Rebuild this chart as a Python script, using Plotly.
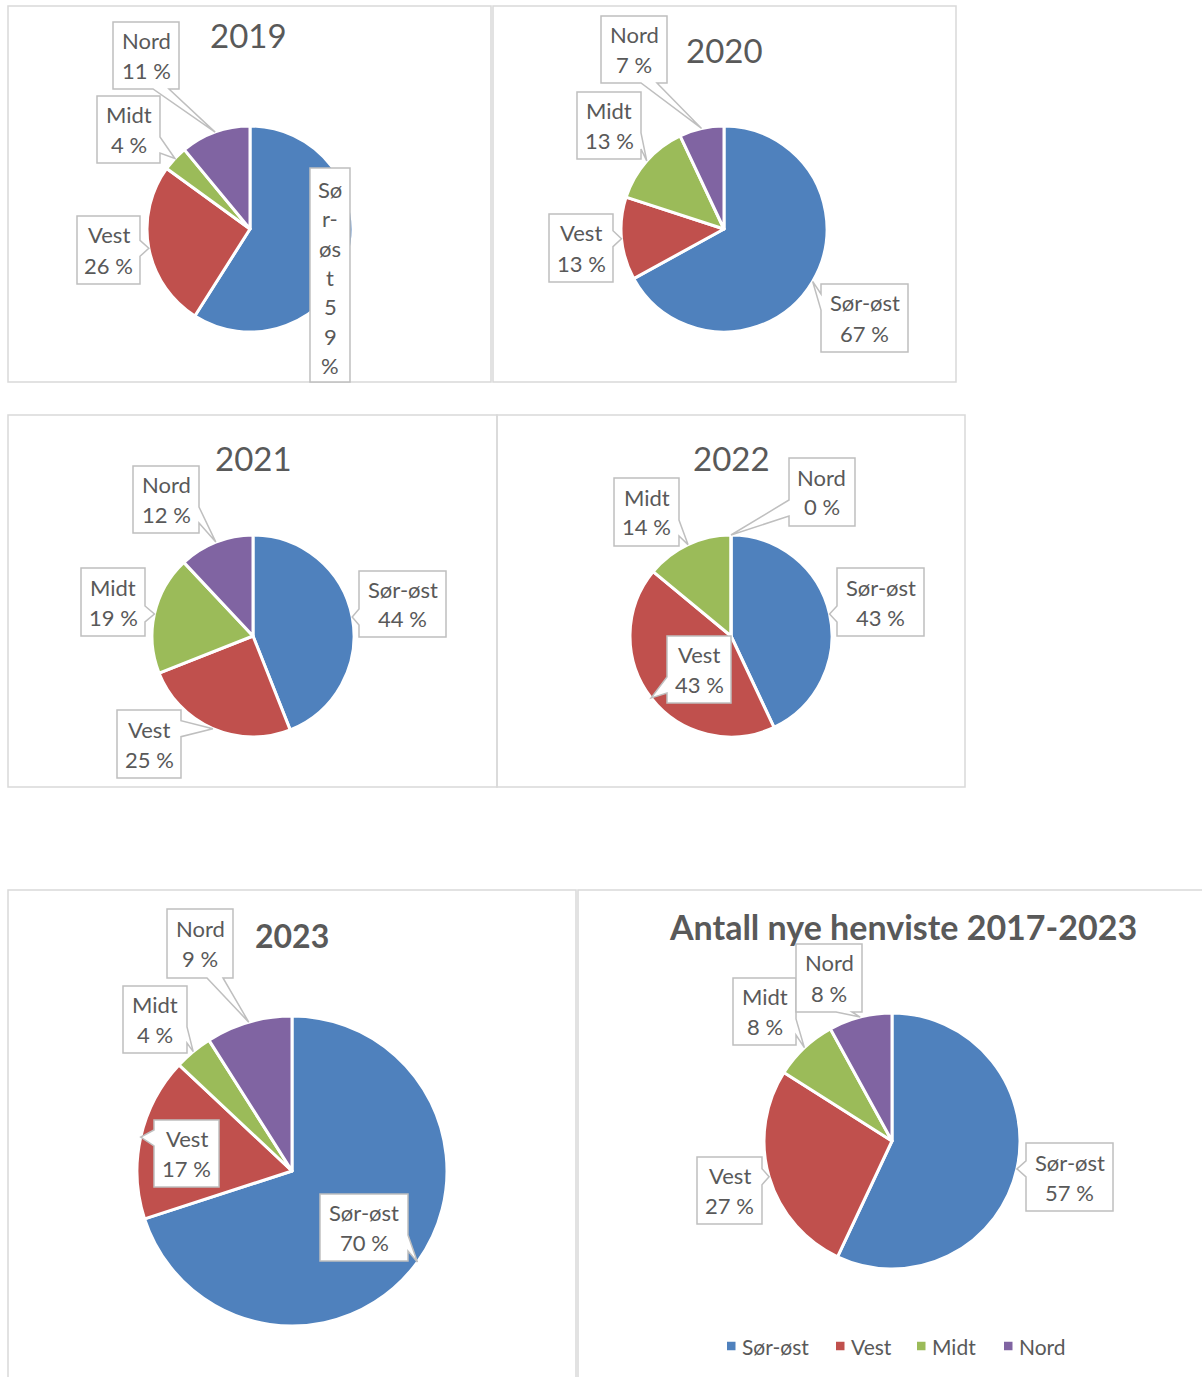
import math
import plotly.graph_objects as go

W, H = 1202, 1377
OFF = 0  # body margin removed via post_script

# ---------------- data ----------------
regions = ["Sør-øst", "Vest", "Midt", "Nord"]
region_colors = ["#4F81BD", "#C0504D", "#9BBB59", "#8064A2"]

chart_titles = ["2019", "2020", "2021", "2022", "2023", "Antall nye henviste 2017-2023"]
share_2019 = [59, 26, 4, 11]
share_2020 = [67, 13, 13, 7]
share_2021 = [44, 25, 19, 12]
share_2022 = [43, 43, 14, 0]
share_2023 = [70, 17, 4, 9]
share_total = [57, 27, 8, 8]
shares = [share_2019, share_2020, share_2021, share_2022, share_2023, share_total]

# ---------------- style / layout ----------------
TEXT = "#595959"
BOX_LINE = "#BFBFBF"
PANEL_LINE = "#D9D9D9"
FONT = "Lato"

# pixel layout of each panel: panel rect, pie centre/radius, title position,
# callout boxes (x0, x1, y0, y1) in region order
panels = [
    dict(rect=(8, 6, 491, 382), center=(250, 229), r=103, title_xy=(248, 35), bold=False, tsize=33,
         boxes=[(310, 350, 168, 382), (77, 140, 216, 284), (97, 160, 96, 163), (113, 179, 22, 89)],
         narrow=0),
    dict(rect=(493, 6, 956, 382), center=(724, 229), r=103, title_xy=(724, 50), bold=False, tsize=33,
         boxes=[(821, 908, 284, 352), (549, 613, 214, 282), (577, 641, 92, 159), (601, 667, 16, 83)]),
    dict(rect=(8, 415, 497, 787), center=(253, 636), r=101, title_xy=(253, 458), bold=False, tsize=33,
         boxes=[(359, 446, 571, 637), (117, 181, 710, 778), (81, 145, 568, 636), (133, 199, 466, 533)]),
    dict(rect=(497, 415, 965, 787), center=(731, 636), r=101, title_xy=(731, 458), bold=False, tsize=33,
         boxes=[(837, 924, 568, 636), (667, 731, 636, 703), (614, 679, 478, 546), (789, 855, 458, 526)]),
    dict(rect=(8, 890, 576, 1420), center=(292, 1171), r=155, title_xy=(292, 935), bold=True, tsize=32,
         boxes=[(320, 408, 1194, 1261), (154, 219, 1120, 1187), (123, 187, 986, 1053), (167, 233, 909, 978)]),
    dict(rect=(578, 890, 1220, 1420), center=(892, 1141), r=128, title_xy=(903, 926), bold=True, tsize=34,
         boxes=[(1026, 1113, 1143, 1211), (697, 762, 1157, 1224), (733, 796, 978, 1045), (796, 862, 944, 1012)]),
]
legend_square_x = [727, 836, 917, 1004]
legend_y = 1346


def px(x):
    return (x - OFF) / W


def py(y):
    return 1 - (y - OFF) / H


def callout_path(box, tip, base=16, margin=10):
    x0, x1, y0, y1 = box
    tx, ty = tip
    dx = (tx - x1) if tx > x1 else ((x0 - tx) if tx < x0 else 0)
    dy = (ty - y1) if ty > y1 else ((y0 - ty) if ty < y0 else 0)
    TL, TR, BR, BL = (x0, y0), (x1, y0), (x1, y1), (x0, y1)
    if dx == 0 and dy == 0:
        pts = [TL, TR, BR, BL]
    elif dy > dx:
        c = min(max(tx, x0 + margin + base / 2), x1 - margin - base / 2)
        b0, b1 = c - base / 2, c + base / 2
        if ty < y0:
            pts = [TL, (b0, y0), tip, (b1, y0), TR, BR, BL]
        else:
            pts = [TL, TR, BR, (b1, y1), tip, (b0, y1), BL]
    else:
        c = min(max(ty, y0 + margin + base / 2), y1 - margin - base / 2)
        b0, b1 = c - base / 2, c + base / 2
        if tx > x1:
            pts = [TL, TR, (x1, b0), tip, (x1, b1), BR, BL]
        else:
            pts = [TL, TR, BR, BL, (x0, b1), tip, (x0, b0)]
    return "M " + " L ".join(f"{px(a):.5f},{py(b):.5f}" for a, b in pts) + " Z"


fig = go.Figure()
shapes = []
annotations = []

for p, vals, title in zip(panels, shares, chart_titles):
    cx, cy = p["center"]
    r = p["r"]
    fig.add_trace(go.Pie(
        labels=regions, values=vals, sort=False, direction="clockwise", rotation=0,
        marker=dict(colors=region_colors, line=dict(color="white", width=3)),
        textinfo="none", hoverinfo="label+percent", showlegend=False,
        domain=dict(x=[px(cx - r), px(cx + r)], y=[py(cy + r), py(cy - r)]),
    ))
    x0, y0, x1, y1 = p["rect"]
    shapes.append(dict(type="rect", xref="paper", yref="paper",
                       x0=px(x0), x1=px(x1), y0=py(y1), y1=py(y0),
                       line=dict(color=PANEL_LINE, width=1.5), layer="below"))
    tx, ty = p["title_xy"]
    annotations.append(dict(x=px(tx), y=py(ty), xref="paper", yref="paper", showarrow=False,
                            text=title, xanchor="center", yanchor="middle",
                            font=dict(family=FONT, size=p["tsize"], color=TEXT,
                                      weight="bold" if p["bold"] else "normal")))
    total = sum(vals)
    cum = 0
    for i, (name, v, box) in enumerate(zip(regions, vals, p["boxes"])):
        mid = (cum + v / 2) / total
        cum += v
        th = 2 * math.pi * mid
        tip = (cx + r * math.sin(th), cy - r * math.cos(th))
        shapes.append(dict(type="path", xref="paper", yref="paper", path=callout_path(box, tip),
                           fillcolor="white", line=dict(color=BOX_LINE, width=1.5), layer="above"))
        bx = (box[0] + box[1]) / 2
        if p.get("narrow") == i:
            lines = [name[k:k + 2] for k in range(0, len(name), 2)] + list(str(v)) + ["%"]
            step = 29.3
            by = 277.5
        else:
            lines = [name, f"{v} %"]
            step = 30
            by = (box[2] + box[3]) / 2
        n = len(lines)
        for k, ln in enumerate(lines):
            ly = by + (k - (n - 1) / 2) * step
            annotations.append(dict(x=px(bx), y=py(ly), xref="paper", yref="paper", showarrow=False,
                                    text=ln, xanchor="center", yanchor="middle",
                                    font=dict(family=FONT, size=22, color=TEXT)))

# legend (manual, colours/labels from data)
for name, col, sx in zip(regions, region_colors, legend_square_x):
    shapes.append(dict(type="rect", xref="paper", yref="paper",
                       x0=px(sx), x1=px(sx + 8.5), y0=py(legend_y + 4.25), y1=py(legend_y - 4.25),
                       fillcolor=col, line=dict(width=0), layer="above"))
    annotations.append(dict(x=px(sx + 13), y=py(legend_y), xref="paper", yref="paper", showarrow=False,
                            text=name, xanchor="left", yanchor="middle",
                            font=dict(family=FONT, size=21, color=TEXT)))

fig.update_layout(
    width=W, height=H, margin=dict(l=0, r=0, t=0, b=0),
    paper_bgcolor="white", plot_bgcolor="white",
    shapes=shapes, annotations=annotations, showlegend=False,
)
fig.write_html("out.html", config={"displayModeBar": False},
               post_script="document.body.style.margin='0';document.body.style.overflow='hidden';")
